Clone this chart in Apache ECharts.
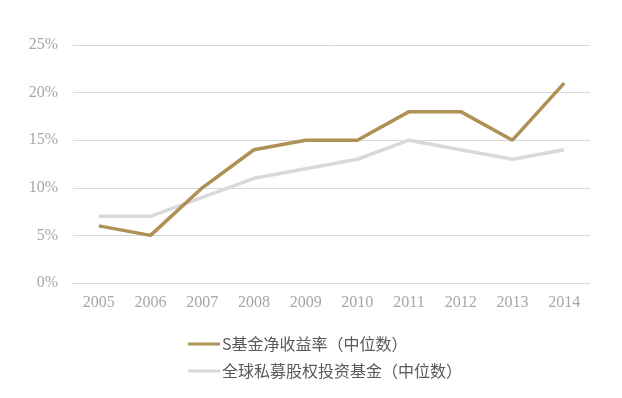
<!DOCTYPE html>
<html>
<head>
<meta charset="utf-8">
<script src="https://cdn.jsdelivr.net/npm/echarts@6/dist/echarts.min.js"></script>
<style>
  html, body { margin: 0; padding: 0; background: #fff; }
  #chart { width: 622px; height: 398px; }
</style>
</head>
<body>
<div id="chart"></div>
<script>
const years = ['2005', '2006', '2007', '2008', '2009', '2010', '2011', '2012', '2013', '2014']
const sFund = [6, 5, 10, 14, 15, 15, 18, 18, 15, 21]
const globalPE = [7, 7, 9, 11, 12, 13, 15, 14, 13, 14]
const seriesNames = ['S基金净收益率（中位数）', '全球私募股权投资基金（中位数）']

const chart = echarts.init(document.getElementById('chart'))

chart.setOption({
  animation: false,
  textStyle: { fontFamily: 'Liberation Serif' },
  grid: { left: 73, right: 32, top: 45, bottom: 115 },
  legend: {
    orient: 'vertical',
    left: 183,
    top: 331,
    itemWidth: 32,
    itemHeight: 3,
    itemGap: 11,
    icon: 'rect',
    textStyle: { color: '#595959', fontSize: 16, fontFamily: 'Noto Sans CJK SC', padding: [0, 0, 0, -3] },
    data: seriesNames
  },
  xAxis: {
    type: 'category',
    data: years,
    axisLine: { lineStyle: { color: '#D9D9D9' } },
    axisTick: { show: false },
    axisLabel: { color: '#A6A6A6', fontSize: 16, margin: 12 }
  },
  yAxis: {
    type: 'value',
    min: 0,
    max: 25,
    interval: 5,
    axisLine: { show: false },
    axisTick: { show: false },
    splitLine: { lineStyle: { color: '#D9D9D9' } },
    axisLabel: { color: '#A6A6A6', fontSize: 16, margin: 15, formatter: '{value}%' }
  },
  series: [
    {
      name: seriesNames[0],
      type: 'line',
      data: sFund,
      symbol: 'none',
      lineStyle: { color: '#B09155', width: 3.5 },
      itemStyle: { color: '#B09155' },
      z: 3
    },
    {
      name: seriesNames[1],
      type: 'line',
      data: globalPE,
      symbol: 'none',
      lineStyle: { color: '#D9D9D9', width: 3.5 },
      itemStyle: { color: '#D9D9D9' },
      z: 2
    }
  ]
})
</script>
</body>
</html>
